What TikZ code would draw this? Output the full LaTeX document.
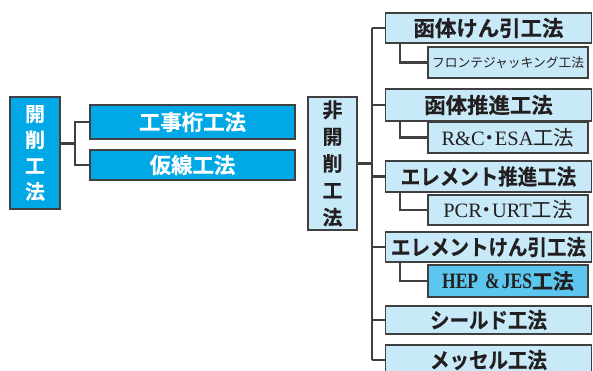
\documentclass[tikz,border=0pt]{standalone}
\usepackage{fontspec}
\newfontfamily\jp{Noto Sans CJK JP}[BoldFont=Noto Sans CJK JP Bold,BoldFeatures={FakeBold=0.5}]
\newfontfamily\jpc{Noto Sans CJK JP}[BoldFont=Noto Sans CJK JP Bold,BoldFeatures={FakeBold=0.5},FakeStretch=0.91]
\newfontfamily\lserif{Liberation Serif}
\newfontfamily\lserifc{Liberation Serif}[FakeStretch=0.8]
\newcommand{\nakaguro}{{\jp\kern-0.25em ・\kern-0.25em}}
\definecolor{bblue}{HTML}{00A9E6}
\definecolor{lblue}{HTML}{C8E9F8}
\definecolor{mblue}{HTML}{5CC6EE}
\definecolor{edge}{HTML}{404040}
\definecolor{ink}{HTML}{231F20}
\begin{document}
\begin{tikzpicture}[x=1bp,y=-1bp,
  box/.style={draw=edge,line width=1.2bp,inner sep=0pt,anchor=center},
  dbox/.style={box,fill=bblue,text=white,font=\jp\bfseries\fontsize{21.5}{21.5}\selectfont},
  vbox/.style={box,align=center},
  l1/.style={box,fill=lblue,text=ink,minimum width=206bp,font=\jp\bfseries\fontsize{21.5}{21.5}\selectfont},
  l1c/.style={l1,font=\jpc\bfseries\fontsize{21.5}{21.5}\selectfont},
  l2/.style={box,fill=lblue,text=ink,minimum width=160bp},
  conn/.style={draw=edge,line width=2.6bp}]
\useasboundingbox (0,0) rectangle (593,370);
% left tree
\node[vbox,fill=bblue,text=white,minimum width=50bp,minimum height=112bp,
  font=\jp\bfseries\fontsize{20}{26}\selectfont] (kai) at (35,153) {開\\削\\工\\法};
\node[dbox,minimum width=205bp,minimum height=34bp] (k1) at (192.5,122) {工事桁工法};
\node[dbox,minimum width=205bp,minimum height=30bp] (k2) at (192.5,165) {仮線工法};
\coordinate (kb) at (75,143.5);
\draw[conn] (kai.east |- kb) -- (kb);
\draw[conn] (k1.west) -| (kb) |- (k2.west);
% right tree
\node[vbox,fill=lblue,text=ink,minimum width=49bp,minimum height=133bp,
  font=\jp\bfseries\fontsize{20}{27}\selectfont] (hi) at (332.5,163.5) {非\\開\\削\\工\\法};
\node[l1,minimum height=30bp] (a1) at (488.5,28) {函体けん引工法};
\node[l2,minimum height=31bp,font=\jp\fontsize{12.8}{12.8}\selectfont] (b1) at (508,62.5) {フロンテジャッキング工法};
\node[l1,minimum height=32bp] (a2) at (488.5,105) {函体推進工法};
\node[l2,minimum height=31bp,font=\fontsize{20.5}{20.5}\selectfont] (b2) at (508,137.5) {{\lserif R\&C}\nakaguro{\lserif ESA}{\jp\fontsize{20.5}{20.5}\selectfont 工法}};
\node[l1c,minimum height=31bp] (a3) at (488.5,176.5) {エレメント推進工法};
\node[l2,minimum height=30bp,font=\fontsize{20.5}{20.5}\selectfont] (b3) at (508,210) {{\lserif PCR}\nakaguro{\lserif URT}{\jp\fontsize{20.5}{20.5}\selectfont 工法}};
\node[l1c,minimum height=30bp] (a4) at (488.5,247) {エレメントけん引工法};
\node[l2,fill=mblue,minimum height=32bp,font=\fontsize{22}{22}\selectfont] (b4) at (508,281) {{\lserifc\bfseries HEP\kern7bp\&\kern2bp JES}{\jp\bfseries\fontsize{21}{21}\selectfont 工法}};
\node[l1c,minimum height=28bp] (a5) at (488.5,320) {シールド工法};
\node[l1c,minimum height=30bp] (a6) at (488.5,360) {メッセル工法};
\coordinate (tr) at (372,0);
\coordinate (sb) at (400,0);
\draw[conn] (hi.east) -- (hi.east -| tr);
\draw[conn] (a1.west -| tr) -- (a6.west -| tr);
\foreach \n in {a1,a2,a3,a4,a5,a6}{\draw[conn] (\n.west -| tr) -- (\n.west);}
\draw[conn] (a1.south -| sb) |- (b1.west);
\draw[conn] (a2.south -| sb) |- (b2.west);
\draw[conn] (a3.south -| sb) |- (b3.west);
\draw[conn] (a4.south -| sb) |- (b4.west);
\end{tikzpicture}
\end{document}
